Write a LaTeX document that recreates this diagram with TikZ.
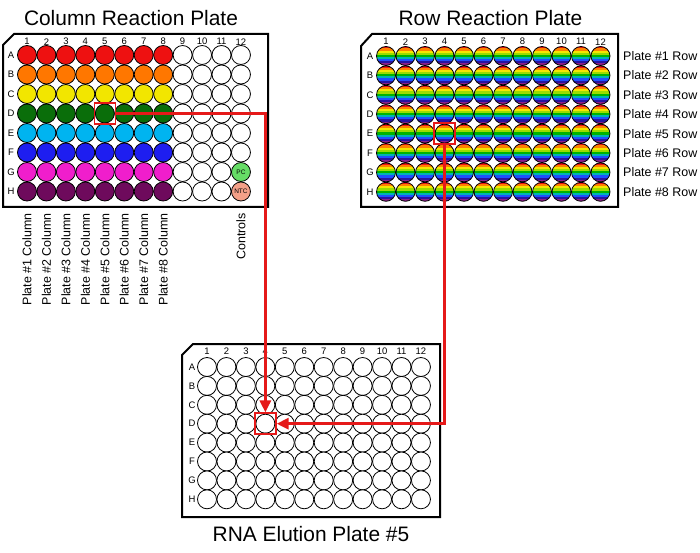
\documentclass[tikz,border=0pt]{standalone}
\usepackage{fontspec}
\setmainfont{Liberation Sans}
\usetikzlibrary{arrows.meta}
\definecolor{cA}{HTML}{EE1111}
\definecolor{cB}{HTML}{FF7700}
\definecolor{cC}{HTML}{F2E600}
\definecolor{cD}{HTML}{0A6E0A}
\definecolor{cE}{HTML}{00B4F0}
\definecolor{cF}{HTML}{1E1EF0}
\definecolor{cG}{HTML}{F01ECC}
\definecolor{cH}{HTML}{6E0A5C}
\definecolor{pcg}{HTML}{66DD66}
\definecolor{ntc}{HTML}{F4A088}
\definecolor{redc}{HTML}{E51919}
\definecolor{rb1}{HTML}{F01414}
\definecolor{rb2}{HTML}{FF8000}
\definecolor{rb3}{HTML}{F5E600}
\definecolor{rb4}{HTML}{9CDC00}
\definecolor{rb5}{HTML}{00B400}
\definecolor{rb6}{HTML}{00B4B4}
\definecolor{rb7}{HTML}{1E50FF}
\definecolor{rb8}{HTML}{2814A0}
\definecolor{rb9}{HTML}{8C1E8C}
\begin{document}
\begin{tikzpicture}[x=1bp,y=-1bp,
  well/.style={circle,draw=black,line width=0.8bp,minimum size=19bp,inner sep=0pt},
  plate/.style={draw=black,line width=2bp,fill=white,line join=miter},
  colnum/.style={font=\fontsize{9.5}{9.5}\selectfont,inner sep=0pt},
  rowlet/.style={font=\fontsize{9.5}{9.5}\selectfont,inner sep=0pt},
  title/.style={font=\fontsize{21}{21}\selectfont,inner sep=0pt,anchor=base},
  lab/.style={font=\fontsize{12.5}{12.5}\selectfont,inner sep=0pt},
  selbox/.style={draw=redc,line width=1.6bp,minimum size=21bp,inner sep=0pt},
  redline/.style={draw=redc,line width=3.5bp,-{Triangle[length=12bp,width=11bp]}},
  rainbow/.style={path picture={
    \foreach \cc [count=\i from 0] in {rb1,rb2,rb3,rb4,rb5,rb6,rb7,rb8,rb9}{
      \fill[\cc] ([yshift={9.6bp-\i*19.2bp/9+0.15bp}]path picture bounding box.west) rectangle ([yshift={9.6bp-(\i+1)*19.2bp/9-0.15bp}]path picture bounding box.east);
    }}}
]
\useasboundingbox (0,0) rectangle (700,553);
\fill[white] (0,0) rectangle (700,553);

% titles
\node[title] (t1) at (131,26) {Column Reaction Plate};
\node[title] (t2) at (490.5,26) {Row Reaction Plate};
\node[title] (t3) at (311,541) {RNA Elution Plate \#5};

% plate outlines
\draw[plate] (3,45) -- (14,34) -- (268,34) -- (268,207) -- (3,207) -- cycle;
\draw[plate] (361,46) -- (372,34) -- (618,34) -- (618,207) -- (361,207) -- cycle;
\draw[plate] (182,355) -- (193,344) -- (440,344) -- (440,517) -- (182,517) -- cycle;

% column numbers
\foreach \c in {1,...,12}{
  \node[colnum] (TLcol-\c) at ({27+(\c-1)*19.45},41.7) {\c};
  \node[colnum] (TRcol-\c) at ({386+(\c-1)*19.5},41.7) {\c};
  \node[colnum] (Bcol-\c) at ({207+(\c-1)*19.45},351.5) {\c};
}

% top-left plate
\foreach \r [count=\ri from 0] in {A,B,C,D,E,F,G,H}{
  \node[rowlet] (TLrow-\r) at (11,{55+\ri*19.5}) {\r};
  \foreach \c in {1,...,12}{
    \def\wf{white}\def\wt{}
    \ifnum\c<9 \def\wf{c\r}\fi
    \ifnum\c=12
      \ifnum\ri=6 \def\wf{pcg}\def\wt{PC}\fi
      \ifnum\ri=7 \def\wf{ntc}\def\wt{NTC}\fi
    \fi
    \node[well,fill=\wf,font=\fontsize{6.5}{6.5}\selectfont] (TL-\r-\c) at ({27+(\c-1)*19.45},{55+\ri*19.5}) {\wt};
  }
}

% top-right plate
\foreach \r [count=\ri from 0] in {A,B,C,D,E,F,G,H}{
  \node[rowlet] (TRrow-\r) at (370,{56+\ri*19.4}) {\r};
  \foreach \c in {1,...,12}{
    \node[well,rainbow] (TR-\r-\c) at ({386+(\c-1)*19.5},{56+\ri*19.4}) {};
  }
  \node[lab,anchor=west] (rowlab-\ri) at (623,{56+\ri*19.4}) {Plate \#\the\numexpr\ri+1\relax\ Row};
}

% bottom plate
\foreach \r [count=\ri from 0] in {A,B,C,D,E,F,G,H}{
  \node[rowlet] (Brow-\r) at (192,{367+\ri*18.9}) {\r};
  \foreach \c in {1,...,12}{
    \node[well,fill=white] (B-\r-\c) at ({207+(\c-1)*19.45},{367+\ri*18.9}) {};
  }
}

% column labels
\foreach \c in {1,...,8}{
  \node[lab,rotate=90,anchor=east] (collab-\c) at ({27+(\c-1)*19.45},213) {Plate \#\c\ Column};
}
\node[lab,rotate=90,anchor=east] (ctrl) at ({27+11*19.45},213) {Controls};

% selection boxes
\node[selbox] (srcL) at (TL-D-5) {};
\node[selbox] (srcR) at (TR-E-4) {};
\node[selbox] (dstB) at (B-D-4) {};

% arrows
\draw[redline] (srcL.east) -| (dstB.north);
\draw[redline] (srcR.south) |- (dstB.east);
\end{tikzpicture}
\end{document}
